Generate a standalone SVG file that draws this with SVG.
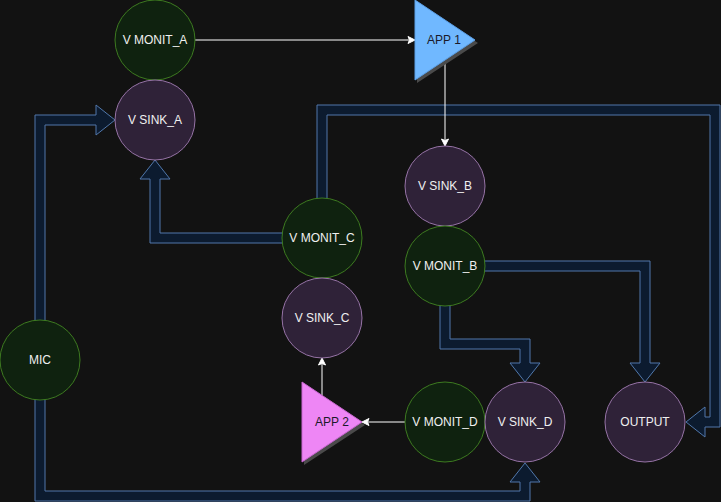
<svg xmlns="http://www.w3.org/2000/svg" width="721" height="502" viewBox="0 0 721 502">
<style>
.flex{fill:#0c1b2f;stroke:#5077ab;stroke-width:1;stroke-linejoin:miter}
.wire{stroke:#ffffff;stroke-width:1;fill:none}
.head{fill:#ffffff;stroke:#ffffff;stroke-width:1}
.mon{fill:#0f220f;stroke:#3d7a20;stroke-width:1}
.sink{fill:#2f2238;stroke:#9673a6;stroke-width:1}
.lbl{font-family:"Liberation Sans",Arial,sans-serif;font-size:12px;fill:#f0f0f0;text-anchor:middle;dominant-baseline:central}
.dark{fill:#1a1a2a}
.shadow{fill:#4a4a4a}
</style>
<rect x="0" y="0" width="721" height="502" fill="#121212"/>
<g id="connectors">
<polygon class="flex" points="35,322 35,115 96,115 96,105 115,120 96,135 96,125 45,125 45,322"/>
<polygon class="flex" points="35,398 35,501 530,501 530,482 540,482 525,463 510,482 520,482 520,491 45,491 45,398"/>
<polygon class="flex" points="284,243 150,243 150,179 140,179 155,160 170,179 160,179 160,233 284,233"/>
<polygon class="flex" points="317,200 317,105 720,105 720,427 705,427 705,437 686,422 705,407 705,417 710,417 710,115 327,115 327,200"/>
<polygon class="flex" points="483,261 650,261 650,363 660,363 645,382 630,363 640,363 640,271 483,271"/>
<polygon class="flex" points="440,304 440,349 520,349 520,363 510,363 525,382 540,363 530,363 530,339 450,339 450,304"/>
<line class="wire" x1="195" y1="40" x2="409" y2="40"/>
<polygon class="head" points="415,40 408,36.5 409.5,40 408,43.5"/>
<line class="wire" x1="445" y1="60" x2="445" y2="140"/>
<polygon class="head" points="445,146 441.5,139 445,140.5 448.5,139"/>
<line class="wire" x1="322" y1="395" x2="322" y2="364"/>
<polygon class="head" points="322,358 318.5,365 322,363.5 325.5,365"/>
<line class="wire" x1="405" y1="422" x2="368" y2="422"/>
<polygon class="head" points="362,422 369,418.5 367.5,422 369,425.5"/>
</g>
<g id="v_monit_a"><circle class="mon" cx="155" cy="40" r="40"/><text class="lbl" x="155" y="40">V MONIT_A</text></g>
<g id="v_sink_a"><circle class="sink" cx="155" cy="120" r="40"/><text class="lbl" x="155" y="120">V SINK_A</text></g>
<g id="app1"><polygon class="shadow" points="417,3 417,83 478,43"/><polygon points="415,0 415,80 475,40" fill="#70b8ff" stroke="#5a9fe6" stroke-width="1"/><text class="lbl dark" x="444" y="40">APP 1</text></g>
<g id="v_sink_b"><circle class="sink" cx="445" cy="186" r="40"/><text class="lbl" x="445" y="186">V SINK_B</text></g>
<g id="v_monit_b"><circle class="mon" cx="445" cy="266" r="40"/><text class="lbl" x="445" y="266">V MONIT_B</text></g>
<g id="v_monit_c"><circle class="mon" cx="322" cy="238" r="40"/><text class="lbl" x="322" y="238">V MONIT_C</text></g>
<g id="v_sink_c"><circle class="sink" cx="322" cy="318" r="40"/><text class="lbl" x="322" y="318">V SINK_C</text></g>
<g id="mic"><circle class="mon" cx="40" cy="360" r="40"/><text class="lbl" x="40" y="360">MIC</text></g>
<g id="app2"><polygon class="shadow" points="304,385 304,465 365,425"/><polygon points="302,382 302,462 362,422" fill="#ee86f5" stroke="#c865d0" stroke-width="1"/><text class="lbl dark" x="332" y="422">APP 2</text></g>
<g id="v_monit_d"><circle class="mon" cx="445" cy="422" r="40"/><text class="lbl" x="445" y="422">V MONIT_D</text></g>
<g id="v_sink_d"><circle class="sink" cx="525" cy="422" r="40"/><text class="lbl" x="525" y="422">V SINK_D</text></g>
<g id="output"><circle class="sink" cx="645" cy="422" r="40"/><text class="lbl" x="645" y="422">OUTPUT</text></g>
</svg>
